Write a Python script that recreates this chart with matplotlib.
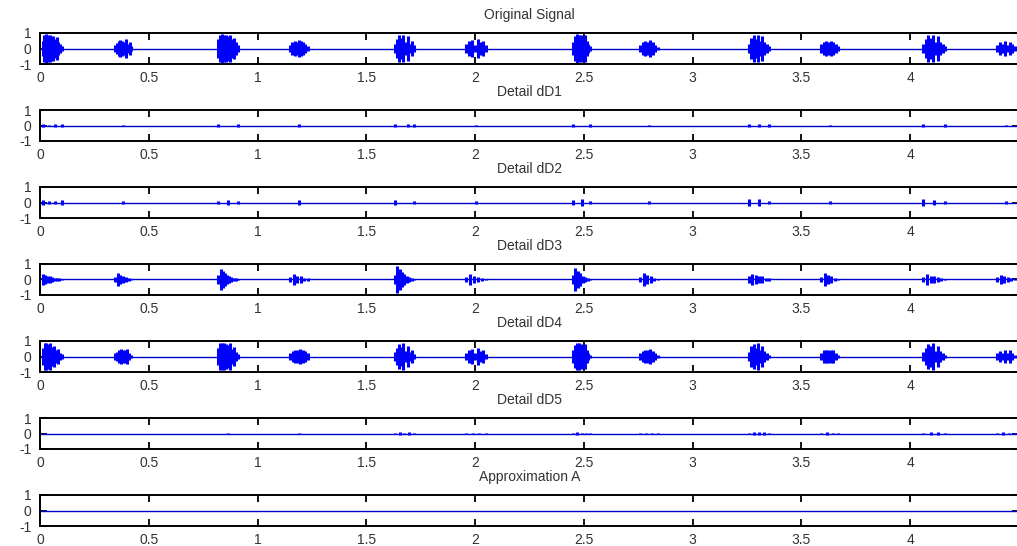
import matplotlib
matplotlib.use('Agg')
import matplotlib.pyplot as plt
import numpy as np

plt.rcParams['font.family'] = ['Liberation Sans', 'DejaVu Sans']

titles = ['Original Signal', 'Detail dD1', 'Detail dD2', 'Detail dD3',
          'Detail dD4', 'Detail dD5', 'Approximation A']

xticks = [0, 0.5, 1, 1.5, 2, 2.5, 3, 3.5, 4]
xtick_labels = ['0', '0.5', '1', '1.5', '2', '2.5', '3', '3.5', '4']
yticks = [-1, 0, 1]
ytick_labels = ['-1', '0', '1']

# burst spans (start, end) in seconds
spans = [(0.012, 0.10), (0.345, 0.42), (0.82, 0.91), (1.15, 1.23),
         (1.63, 1.72), (1.96, 2.05), (2.45, 2.53), (2.76, 2.84),
         (3.26, 3.35), (3.59, 3.67), (4.06, 4.16), (4.40, 4.48)]

# envelope heights inside each burst
original = [
    [0.5, 0.9, 0.95, 0.85, 0.9, 0.7, 0.8, 0.6, 0.75, 0.4, 0.3, 0.15],
    [0.2, 0.35, 0.5, 0.55, 0.5, 0.45, 0.6, 0.3, 0.4, 0.15],
    [0.6, 0.9, 0.95, 0.9, 0.85, 0.8, 0.9, 0.6, 0.7, 0.4, 0.2],
    [0.2, 0.4, 0.5, 0.45, 0.55, 0.5, 0.45, 0.3, 0.15],
    [0.3, 0.6, 0.85, 0.7, 0.9, 0.4, 0.8, 0.3, 0.5, 0.2],
    [0.3, 0.5, 0.55, 0.2, 0.6, 0.4, 0.5, 0.2],
    [0.4, 0.8, 0.95, 0.9, 0.85, 0.7, 0.9, 0.5, 0.3, 0.15],
    [0.2, 0.4, 0.5, 0.45, 0.55, 0.4, 0.25, 0.1],
    [0.3, 0.7, 0.85, 0.6, 0.9, 0.5, 0.8, 0.4, 0.3, 0.15],
    [0.3, 0.45, 0.5, 0.45, 0.5, 0.45, 0.3, 0.15],
    [0.3, 0.6, 0.85, 0.7, 0.9, 0.4, 0.8, 0.4, 0.3, 0.15],
    [0.2, 0.4, 0.3, 0.5, 0.2, 0.45, 0.3, 0.15],
]
dd1 = [
    [0.1, 0.05, 0.12, 0.1], [0.05], [0.1, 0.0, 0.0, 0.1], [0.08],
    [0.08, 0.0, 0.1, 0.08], [0.05], [0.12, 0.1], [0.05],
    [0.1, 0.12, 0.08], [0.05], [0.1, 0.0, 0.1], [0.03],
]
dd2 = [
    [0.15, 0.12, 0.1, 0.15], [0.08], [0.12, 0.15, 0.1], [0.15],
    [0.15, 0.12], [0.08], [0.15, 0.2, 0.12], [0.12],
    [0.2, 0.25, 0.1], [0.12], [0.2, 0.15, 0.1], [0.1],
]
dd3 = [
    [0.35, 0.3, 0.25, 0.2, 0.15, 0.12, 0.1, 0.08, 0.06],
    [0.15, 0.4, 0.3, 0.2, 0.15, 0.1, 0.06],
    [0.3, 0.65, 0.55, 0.4, 0.3, 0.2, 0.15, 0.1, 0.12, 0.06],
    [0.15, 0.35, 0.25, 0.2, 0.12, 0.08],
    [0.3, 0.9, 0.7, 0.5, 0.35, 0.25, 0.15, 0.1, 0.06],
    [0.15, 0.35, 0.25, 0.15, 0.1, 0.06],
    [0.3, 0.75, 0.55, 0.4, 0.25, 0.15, 0.1, 0.06],
    [0.15, 0.4, 0.3, 0.2, 0.1, 0.06],
    [0.2, 0.35, 0.3, 0.25, 0.2, 0.12, 0.08],
    [0.15, 0.45, 0.3, 0.2, 0.12, 0.06],
    [0.15, 0.35, 0.25, 0.2, 0.15, 0.1, 0.06],
    [0.15, 0.3, 0.25, 0.15, 0.1, 0.06],
]
dd4 = [
    [0.55, 0.85, 0.9, 0.8, 0.85, 0.6, 0.7, 0.4, 0.5, 0.25, 0.15],
    [0.2, 0.3, 0.45, 0.5, 0.45, 0.4, 0.5, 0.25, 0.1],
    [0.55, 0.85, 0.9, 0.85, 0.8, 0.75, 0.85, 0.5, 0.6, 0.3, 0.15],
    [0.2, 0.35, 0.45, 0.4, 0.5, 0.45, 0.35, 0.2],
    [0.3, 0.55, 0.8, 0.6, 0.85, 0.35, 0.7, 0.3, 0.4, 0.15],
    [0.25, 0.45, 0.5, 0.2, 0.55, 0.35, 0.4, 0.15],
    [0.4, 0.75, 0.9, 0.85, 0.8, 0.65, 0.8, 0.45, 0.25, 0.1],
    [0.2, 0.35, 0.45, 0.4, 0.5, 0.35, 0.2, 0.1],
    [0.3, 0.65, 0.8, 0.55, 0.85, 0.45, 0.7, 0.35, 0.25, 0.1],
    [0.25, 0.4, 0.45, 0.4, 0.45, 0.4, 0.25, 0.1],
    [0.3, 0.55, 0.8, 0.65, 0.85, 0.35, 0.7, 0.35, 0.25, 0.1],
    [0.2, 0.35, 0.25, 0.45, 0.2, 0.4, 0.25, 0.1],
]
dd5 = [
    [0.0], [0.0], [0.03], [0.03],
    [0.04, 0.08, 0.06, 0.08, 0.04], [0.03, 0.06, 0.05, 0.03],
    [0.04, 0.07, 0.05, 0.06, 0.03], [0.04, 0.06, 0.05, 0.03],
    [0.05, 0.08, 0.1, 0.07, 0.04], [0.04, 0.07, 0.05, 0.03],
    [0.05, 0.08, 0.07, 0.05], [0.04, 0.07, 0.06, 0.05],
]
approx = [[0.0]] * 12

panels = [original, dd1, dd2, dd3, dd4, dd5, approx]

W, H = 1017, 546
fig = plt.figure(figsize=(W / 100, H / 100), dpi=100)

for k, (title, bursts) in enumerate(zip(titles, panels)):
    top = 33 + 77 * k
    ax = fig.add_axes([40 / W, 1 - (top + 31) / H, 979 / W, 31 / H])
    ax.axhline(0, color='#0000cc', lw=1.0)
    for (t0, t1), heights in zip(spans, bursts):
        ts = np.linspace(t0, t1, len(heights)) if len(heights) > 1 else [0.5 * (t0 + t1)]
        h = np.array(heights)
        ax.vlines(ts, -h, h, color='#0000ff', lw=2.2)
    ax.set_xlim(0, 4.5)
    ax.set_ylim(-1, 1)
    ax.set_xticks(xticks)
    ax.set_xticklabels(xtick_labels)
    ax.set_yticks(yticks)
    ax.set_yticklabels(ytick_labels)
    ax.tick_params(direction='in', top=True, right=True, length=5, width=1.3,
                   labelsize=10, pad=5, colors='black', labelcolor='#333333')
    ax.tick_params(axis='y', pad=6)
    for s in ax.spines.values():
        s.set_linewidth(1.4)
    ax.set_title(title, fontsize=10, pad=10, color='#333333')

fig.savefig('out.png', dpi=100)
